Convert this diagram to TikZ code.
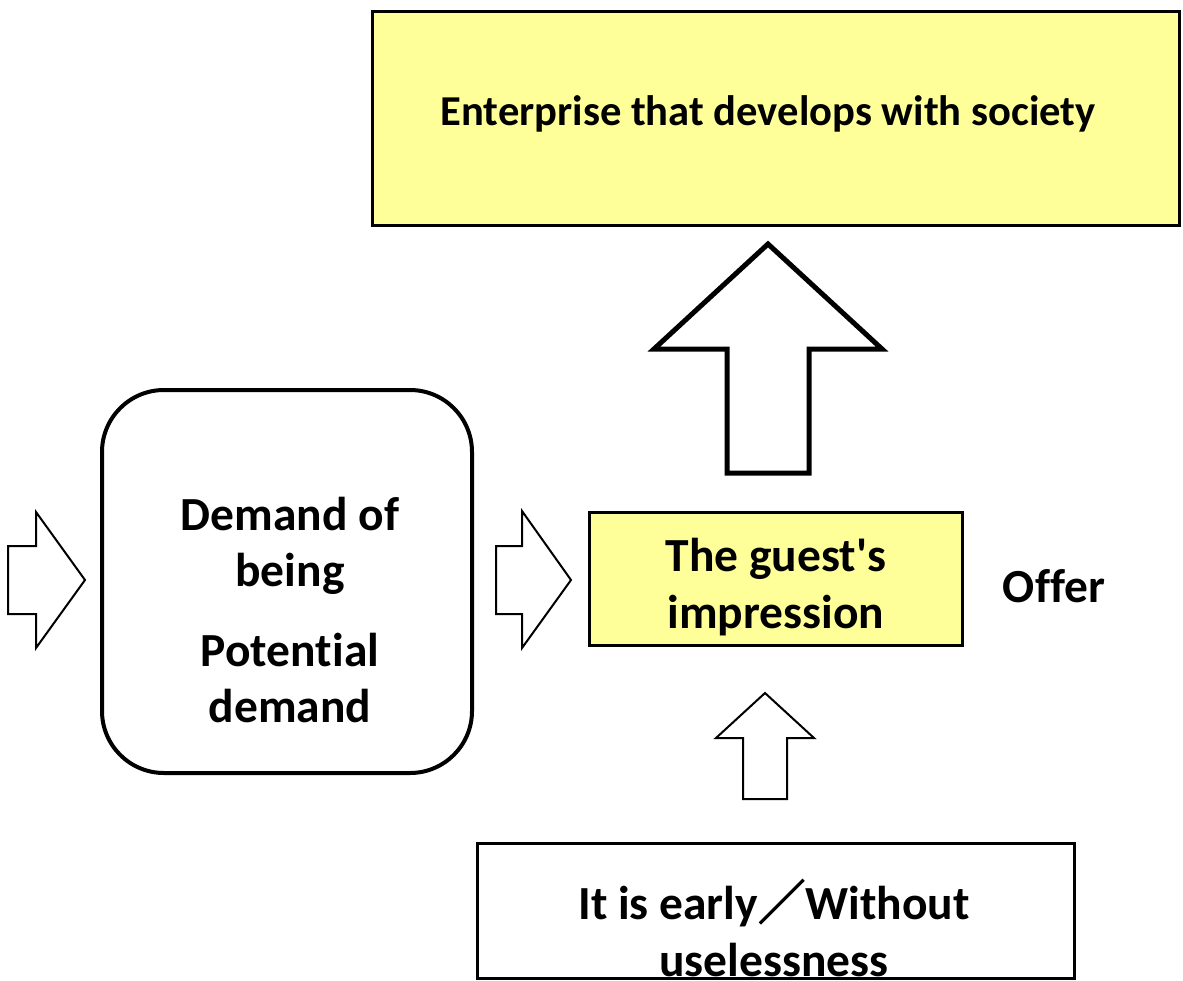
\documentclass[tikz,border=0pt]{standalone}
\usepackage{fontspec}
\setmainfont{Carlito}[Ligatures={TeX,NoCommon}]
\newfontfamily\cjk{Noto Sans CJK JP}[AutoFakeBold=2.5]
\definecolor{paleyellow}{HTML}{FFFF99}
\begin{document}
\begin{tikzpicture}[x=1pt,y=-1pt,
  boxbase/.style={draw=black,inner sep=0pt,outer sep=0pt},
  yellowbox/.style={boxbase,fill=paleyellow,line width=3pt},
  whitebox/.style={boxbase,fill=white,line width=3pt},
  roundbox/.style={boxbase,fill=white,line width=4pt,rounded corners=62pt},
  lbl/.style={align=center,inner sep=0pt,font=\bfseries\fontsize{47.5}{56.5}\selectfont},
  toplbl/.style={lbl,font=\bfseries\fontsize{42.6}{50}\selectfont},
  bigarrow/.style={draw=black,fill=white,line width=5pt,line join=miter},
  smallarrow/.style={draw=black,fill=white,line width=2pt,line join=miter}]
\useasboundingbox (0,0) rectangle (1183,980);

% goal at the top
\node[yellowbox,minimum width=807pt,minimum height=214pt] (goal) at (775.5,118) {};
\node[toplbl] (goaltxt) at (768,114) {Enterprise that develops with society};

% demand block on the left
\node[roundbox,minimum width=370pt,minimum height=383pt] (demand) at (287,581.5) {};
\node[lbl] (demandtxt) at (290,610) {Demand of\\being\\[23pt]Potential\\demand};

% central impression box
\node[yellowbox,minimum width=373pt,minimum height=133pt] (guest) at (775.5,578.5) {};
\node[lbl] (guesttxt) at (776,587) {The guest\textquotesingle s\\impression};

\node[lbl] (offer) at (1054,586) {Offer};

% bottom box
\node[whitebox,minimum width=597pt,minimum height=135pt] (early) at (775.5,910.5) {};
\node[lbl] (earlytxt) at (774,928) {It is early{\cjk ／}Without\\uselessness};

% block arrows
\draw[bigarrow] (768,244) -- (882,349) -- (809,349) -- (809,473)
  -- (727,473) -- (727,349) -- (654,349) -- cycle;
\draw[smallarrow] (765,693) -- (814,738) -- (787,738) -- (787,799)
  -- (743,799) -- (743,738) -- (716,738) -- cycle;
\draw[smallarrow] (85,580) -- (36,648) -- (36,614) -- (8,614)
  -- (8,546) -- (36,546) -- (36,512) -- cycle;
\draw[smallarrow] (571,580) -- (522,648) -- (522,614) -- (496,614)
  -- (496,546) -- (522,546) -- (522,511) -- cycle;
\end{tikzpicture}
\end{document}
